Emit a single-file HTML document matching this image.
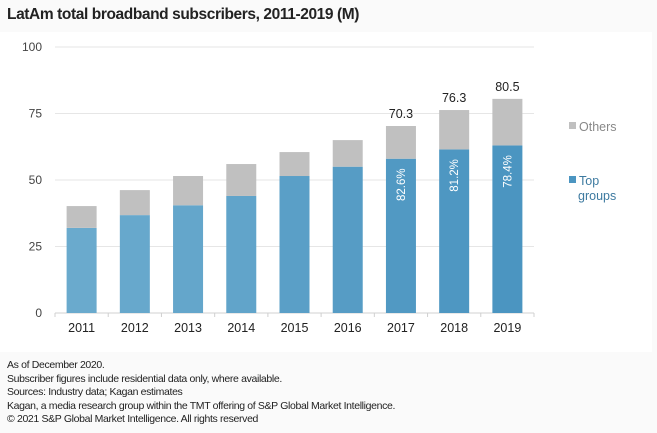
<!DOCTYPE html>
<html><head><meta charset="utf-8"><style>
body{margin:0;width:657px;height:433px;background:#fafafa;font-family:"Liberation Sans",sans-serif;overflow:hidden;position:relative}
#title{position:absolute;left:7px;top:6px;font-size:15.5px;font-weight:bold;color:#222;letter-spacing:-0.4px}
#panel{position:absolute;left:0;top:32px;width:652px;height:320px;background:#fff}
#foot{position:absolute;left:7px;top:359px;font-size:10.5px;color:#222;line-height:13.6px;letter-spacing:-0.35px}
</style></head><body>
<div id="title">LatAm total broadband subscribers, 2011-2019 (M)</div>
<div id="panel"></div>
<svg id="chart" width="657" height="433" style="position:absolute;left:0;top:0"></svg>
<div id="foot">As of December 2020.<br>Subscriber figures include residential data only, where available.<br>Sources: Industry data; Kagan estimates<br>Kagan, a media research group within the TMT offering of S&amp;P Global Market Intelligence.<br>© 2021 S&amp;P Global Market Intelligence. All rights reserved</div>
<script>
const years=["2011","2012","2013","2014","2015","2016","2017","2018","2019"];
const topGroups=[32,36.8,40.5,44,51.5,55,58,61.5,63];
const totals=[40.2,46.2,51.5,56,60.5,65,70.3,76.3,80.5];
const totalLabels=["","","","","","","70.3","76.3","80.5"];
const shareLabels=["","","","","","","82.6%","81.2%","78.4%"];
const yTicks=[0,25,50,75,100];
const topColors=["#6aaacd","#67a8cc","#64a6cb","#61a4ca","#5a9fc7","#569cc5","#5199c3","#4e97c2","#4b95c1"];
const svg=document.getElementById('chart');
const NS="http://www.w3.org/2000/svg";
const x0=55,x1=534,yb=313,yt=47;
const y=v=>yb-(v/100)*(yb-yt);
const step=(x1-x0)/years.length;
const cx=i=>x0+step*(i+0.5);
const bw=30;
function mk(t,a,txt){const e=document.createElementNS(NS,t);for(const k in a)e.setAttribute(k,a[k]);if(txt!==undefined)e.textContent=txt;svg.appendChild(e);return e;}
yTicks.forEach(v=>{
 const g=mk('line',{x1:x0,x2:x1,y1:y(v),y2:y(v),stroke:v===0?'#d0d0d0':'#e6e6e6','stroke-width':1});
 
 
 const t=mk('text',{x:42,y:y(v)+4,'text-anchor':'end','font-size':12,fill:'#444'},v);
 
 
});
for(let i=0;i<=years.length;i++){const tk=mk('line',{x1:x0+step*i,x2:x0+step*i,y1:yb,y2:yb+4,stroke:'#d0d0d0'});
 
 }
years.forEach((yr,i)=>{
 const b=mk('rect',{x:cx(i)-bw/2,y:y(topGroups[i]),width:bw,height:y(0)-y(topGroups[i]),fill:topColors[i]});
 
 
 const o=mk('rect',{x:cx(i)-bw/2,y:y(totals[i]),width:bw,height:y(topGroups[i])-y(totals[i]),fill:'#c0c0c0'});
 
 
 const l=mk('text',{x:cx(i),y:332,'text-anchor':'middle','font-size':12.5,fill:'#222'},yr);
 
 
 if(totalLabels[i]){const t=mk('text',{x:cx(i),y:y(totals[i])-8,'text-anchor':'middle','font-size':12.5,fill:'#222'},totalLabels[i]);
  
  }
 if(shareLabels[i]){const yy=y(topGroups[i])+26;const px=cx(i)+4;
  const t=mk('text',{x:px,y:yy,'text-anchor':'middle','font-size':11.5,fill:'#fff',transform:`rotate(-90 ${px} ${yy})`},shareLabels[i]);
  
  }
});
const lo=mk('rect',{x:569,y:122,width:7,height:7,fill:'#c0c0c0'});


const lot=mk('text',{x:579,y:131,'font-size':12.5,fill:'#888'},'Others');


const lt=mk('rect',{x:569,y:176,width:7,height:7,fill:'#4b95c1'});


const ltt=mk('text',{x:579,y:185,'font-size':12.5,fill:'#3d7aa0'},'Top');


const ltt2=mk('text',{x:578,y:200,'font-size':12.5,fill:'#3d7aa0'},'groups');


</script>
</body></html>
